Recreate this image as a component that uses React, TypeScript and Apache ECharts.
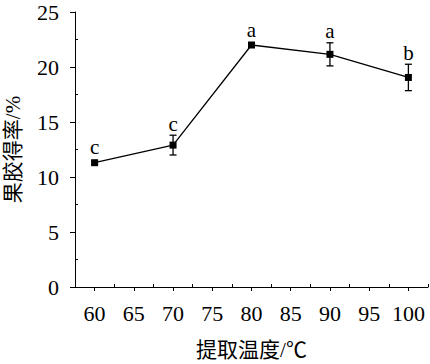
import React, { useEffect, useRef } from "react";
import * as echarts from "echarts";

const temps = [60, 70, 80, 90, 100];
const yields = [11.3, 12.9, 22.0, 21.15, 19.05];
const errors = [0.15, 0.9, 0.2, 1.05, 1.2];
const letters = ["c", "c", "a", "a", "b"];
const xMajorTicks = [60, 65, 70, 75, 80, 85, 90, 95, 100];
const xMinorTicks = [57.5, 62.5, 67.5, 72.5, 77.5, 82.5, 87.5, 92.5, 97.5, 102.5];
const yMajorTicks = [0, 5, 10, 15, 20, 25];
const yMinorTicks = [2.5, 7.5, 12.5, 17.5, 22.5];

const FONT = "'Liberation Serif', 'Noto Sans CJK SC', serif";

export default function App() {
  const ref = useRef<HTMLDivElement>(null);
  useEffect(() => {
    if (!ref.current) return;
    const chart = echarts.init(ref.current, null, { renderer: "svg" });
    const lineData = temps.map((t, i) => [t, yields[i]]);
    const errData = temps.map((t, i) => [t, yields[i] - errors[i], yields[i] + errors[i], i]);
    const axisCommon = {
      axisLine: { show: true, lineStyle: { color: "#000", width: 1 } },
      splitLine: { show: false },
    };
    chart.setOption({
      animation: false,
      backgroundColor: "#fff",
      grid: { left: 75, right: 2, top: 12, bottom: 77, containLabel: false, outerBoundsMode: "none" },
      xAxis: [
        {
          type: "value",
          min: 57.5,
          max: 102.5,
          position: "bottom",
          ...axisCommon,
          axisTick: { show: true, inside: false, length: 4, customValues: xMajorTicks, lineStyle: { color: "#000" } },
          axisLabel: {
            show: true,
            customValues: xMajorTicks,
            color: "#000",
            fontFamily: FONT,
            fontSize: 22,
            margin: 15,
          },
          name: "提取温度/℃",
          nameLocation: "middle",
          nameGap: 52,
          nameTextStyle: { color: "#000", fontFamily: FONT, fontSize: 21 },
        },
        {
          type: "value",
          min: 57.5,
          max: 102.5,
          position: "bottom",
          axisLine: { show: false },
          splitLine: { show: false },
          axisTick: { show: true, inside: true, length: 3, customValues: xMinorTicks, lineStyle: { color: "#000" } },
          axisLabel: { show: false },
        },
      ],
      yAxis: [
        {
          type: "value",
          min: 0,
          max: 25,
          interval: 5,
          position: "left",
          ...axisCommon,
          axisTick: { show: true, inside: false, length: 5, lineStyle: { color: "#000" } },
          axisLabel: {
            show: true,
            customValues: yMajorTicks,
            color: "#000",
            fontFamily: FONT,
            fontSize: 22,
            margin: 16,
          },
          name: "果胶得率/%",
          nameLocation: "middle",
          nameGap: 52,
          nameRotate: 90,
          nameTextStyle: { color: "#000", fontFamily: FONT, fontSize: 21 },
        },
        {
          type: "value",
          min: 0,
          max: 25,
          position: "left",
          axisLine: { show: false },
          splitLine: { show: false },
          axisTick: { show: true, inside: true, length: 3, customValues: yMinorTicks, lineStyle: { color: "#000" } },
          axisLabel: { show: false },
        },
      ],
      series: [
        {
          type: "line",
          data: lineData,
          xAxisIndex: 0,
          yAxisIndex: 0,
          symbol: "rect",
          symbolSize: 7,
          lineStyle: { color: "#000", width: 1.3 },
          itemStyle: { color: "#000" },
          z: 3,
        },
        {
          type: "custom",
          xAxisIndex: 0,
          yAxisIndex: 0,
          data: errData,
          z: 2,
          renderItem: (params: any, api: any) => {
            const x = api.value(0);
            const lo = api.coord([x, api.value(1)]);
            const hi = api.coord([x, api.value(2)]);
            const idx = api.value(3);
            const cx = lo[0];
            const w = 3.5;
            const top = Math.min(hi[1], api.coord([x, yields[idx]])[1] - 4);
            return {
              type: "group",
              children: [
                { type: "line", shape: { x1: cx, y1: lo[1], x2: cx, y2: hi[1] }, style: { stroke: "#000", lineWidth: 1.3 } },
                { type: "line", shape: { x1: cx - w, y1: lo[1], x2: cx + w, y2: lo[1] }, style: { stroke: "#000", lineWidth: 1.3 } },
                { type: "line", shape: { x1: cx - w, y1: hi[1], x2: cx + w, y2: hi[1] }, style: { stroke: "#000", lineWidth: 1.3 } },
                {
                  type: "text",
                  x: cx,
                  y: top - 1,
                  style: {
                    text: letters[idx],
                    fill: "#000",
                    font: `21px ${FONT}`,
                    textAlign: "center",
                    textVerticalAlign: "bottom",
                  },
                },
              ],
            };
          },
        },
      ],
    });
    return () => chart.dispose();
  }, []);
  return <div ref={ref} style={{ position: "fixed", left: 0, top: 0, width: 430, height: 364 }} />;
}
